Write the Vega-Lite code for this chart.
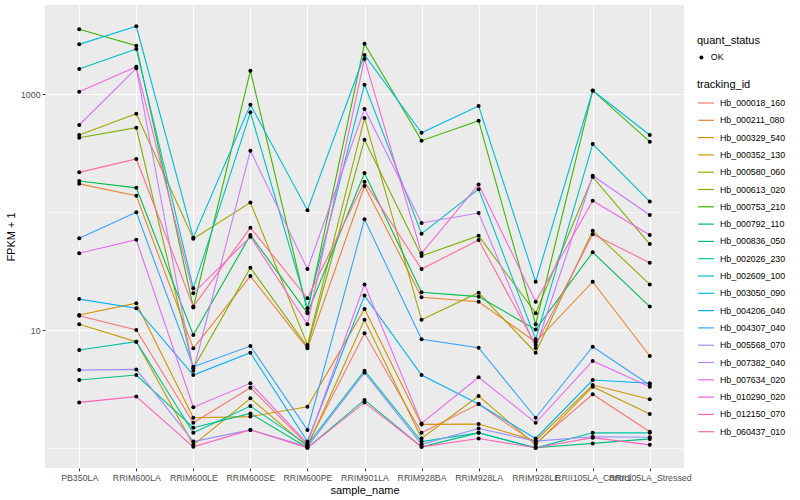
{
  "$schema": "https://vega.github.io/schema/vega-lite/v6.json",
  "width": 639,
  "height": 463,
  "autosize": {"type": "none"},
  "padding": {"left": 45, "top": 5, "right": 116, "bottom": 32},
  "background": "white",
  "data": {"values": [
    {"id":"Hb_000018_160","sample":"PB350LA","fpkm":13.2,"status":"OK"},
    {"id":"Hb_000018_160","sample":"RRIM600LA","fpkm":10,"status":"OK"},
    {"id":"Hb_000018_160","sample":"RRIM600LE","fpkm":1.63,"status":"OK"},
    {"id":"Hb_000018_160","sample":"RRIM600SE","fpkm":3.24,"status":"OK"},
    {"id":"Hb_000018_160","sample":"RRIM600PE","fpkm":1.06,"status":"OK"},
    {"id":"Hb_000018_160","sample":"RRIM901LA","fpkm":9.38,"status":"OK"},
    {"id":"Hb_000018_160","sample":"RRIM928BA","fpkm":1.34,"status":"OK"},
    {"id":"Hb_000018_160","sample":"RRIM928LA","fpkm":2.35,"status":"OK"},
    {"id":"Hb_000018_160","sample":"RRIM928LE","fpkm":1.09,"status":"OK"},
    {"id":"Hb_000018_160","sample":"RRII105LA_Control","fpkm":2.85,"status":"OK"},
    {"id":"Hb_000018_160","sample":"RRII105LA_Stressed","fpkm":1.37,"status":"OK"},
    {"id":"Hb_000211_080","sample":"PB350LA","fpkm":174,"status":"OK"},
    {"id":"Hb_000211_080","sample":"RRIM600LA","fpkm":138,"status":"OK"},
    {"id":"Hb_000211_080","sample":"RRIM600LE","fpkm":6.99,"status":"OK"},
    {"id":"Hb_000211_080","sample":"RRIM600SE","fpkm":28.7,"status":"OK"},
    {"id":"Hb_000211_080","sample":"RRIM600PE","fpkm":6.99,"status":"OK"},
    {"id":"Hb_000211_080","sample":"RRIM901LA","fpkm":167,"status":"OK"},
    {"id":"Hb_000211_080","sample":"RRIM928BA","fpkm":19,"status":"OK"},
    {"id":"Hb_000211_080","sample":"RRIM928LA","fpkm":17.4,"status":"OK"},
    {"id":"Hb_000211_080","sample":"RRIM928LE","fpkm":7.91,"status":"OK"},
    {"id":"Hb_000211_080","sample":"RRII105LA_Control","fpkm":25.7,"status":"OK"},
    {"id":"Hb_000211_080","sample":"RRII105LA_Stressed","fpkm":6.02,"status":"OK"},
    {"id":"Hb_000329_540","sample":"PB350LA","fpkm":13.4,"status":"OK"},
    {"id":"Hb_000329_540","sample":"RRIM600LA","fpkm":16.9,"status":"OK"},
    {"id":"Hb_000329_540","sample":"RRIM600LE","fpkm":1.8,"status":"OK"},
    {"id":"Hb_000329_540","sample":"RRIM600SE","fpkm":1.84,"status":"OK"},
    {"id":"Hb_000329_540","sample":"RRIM600PE","fpkm":2.23,"status":"OK"},
    {"id":"Hb_000329_540","sample":"RRIM901LA","fpkm":15.1,"status":"OK"},
    {"id":"Hb_000329_540","sample":"RRIM928BA","fpkm":1.58,"status":"OK"},
    {"id":"Hb_000329_540","sample":"RRIM928LA","fpkm":1.59,"status":"OK"},
    {"id":"Hb_000329_540","sample":"RRIM928LE","fpkm":1.15,"status":"OK"},
    {"id":"Hb_000329_540","sample":"RRII105LA_Control","fpkm":3.41,"status":"OK"},
    {"id":"Hb_000329_540","sample":"RRII105LA_Stressed","fpkm":2.58,"status":"OK"},
    {"id":"Hb_000352_130","sample":"PB350LA","fpkm":11.2,"status":"OK"},
    {"id":"Hb_000352_130","sample":"RRIM600LA","fpkm":7.96,"status":"OK"},
    {"id":"Hb_000352_130","sample":"RRIM600LE","fpkm":1.06,"status":"OK"},
    {"id":"Hb_000352_130","sample":"RRIM600SE","fpkm":2.63,"status":"OK"},
    {"id":"Hb_000352_130","sample":"RRIM600PE","fpkm":1.02,"status":"OK"},
    {"id":"Hb_000352_130","sample":"RRIM901LA","fpkm":12.2,"status":"OK"},
    {"id":"Hb_000352_130","sample":"RRIM928BA","fpkm":1.2,"status":"OK"},
    {"id":"Hb_000352_130","sample":"RRIM928LA","fpkm":2.75,"status":"OK"},
    {"id":"Hb_000352_130","sample":"RRIM928LE","fpkm":1.06,"status":"OK"},
    {"id":"Hb_000352_130","sample":"RRII105LA_Control","fpkm":3.3,"status":"OK"},
    {"id":"Hb_000352_130","sample":"RRII105LA_Stressed","fpkm":1.94,"status":"OK"},
    {"id":"Hb_000580_060","sample":"PB350LA","fpkm":452,"status":"OK"},
    {"id":"Hb_000580_060","sample":"RRIM600LA","fpkm":686,"status":"OK"},
    {"id":"Hb_000580_060","sample":"RRIM600LE","fpkm":59.5,"status":"OK"},
    {"id":"Hb_000580_060","sample":"RRIM600SE","fpkm":121,"status":"OK"},
    {"id":"Hb_000580_060","sample":"RRIM600PE","fpkm":7.46,"status":"OK"},
    {"id":"Hb_000580_060","sample":"RRIM901LA","fpkm":630,"status":"OK"},
    {"id":"Hb_000580_060","sample":"RRIM928BA","fpkm":12.2,"status":"OK"},
    {"id":"Hb_000580_060","sample":"RRIM928LA","fpkm":20.7,"status":"OK"},
    {"id":"Hb_000580_060","sample":"RRIM928LE","fpkm":6.42,"status":"OK"},
    {"id":"Hb_000580_060","sample":"RRII105LA_Control","fpkm":69.7,"status":"OK"},
    {"id":"Hb_000580_060","sample":"RRII105LA_Stressed","fpkm":24.4,"status":"OK"},
    {"id":"Hb_000613_020","sample":"PB350LA","fpkm":429,"status":"OK"},
    {"id":"Hb_000613_020","sample":"RRIM600LA","fpkm":522,"status":"OK"},
    {"id":"Hb_000613_020","sample":"RRIM600LE","fpkm":4.73,"status":"OK"},
    {"id":"Hb_000613_020","sample":"RRIM600SE","fpkm":33.8,"status":"OK"},
    {"id":"Hb_000613_020","sample":"RRIM600PE","fpkm":7.21,"status":"OK"},
    {"id":"Hb_000613_020","sample":"RRIM901LA","fpkm":412,"status":"OK"},
    {"id":"Hb_000613_020","sample":"RRIM928BA","fpkm":42.5,"status":"OK"},
    {"id":"Hb_000613_020","sample":"RRIM928LA","fpkm":63.2,"status":"OK"},
    {"id":"Hb_000613_020","sample":"RRIM928LE","fpkm":13.9,"status":"OK"},
    {"id":"Hb_000613_020","sample":"RRII105LA_Control","fpkm":199,"status":"OK"},
    {"id":"Hb_000613_020","sample":"RRII105LA_Stressed","fpkm":53.7,"status":"OK"},
    {"id":"Hb_000753_210","sample":"PB350LA","fpkm":3570,"status":"OK"},
    {"id":"Hb_000753_210","sample":"RRIM600LA","fpkm":2590,"status":"OK"},
    {"id":"Hb_000753_210","sample":"RRIM600LE","fpkm":15.5,"status":"OK"},
    {"id":"Hb_000753_210","sample":"RRIM600SE","fpkm":1590,"status":"OK"},
    {"id":"Hb_000753_210","sample":"RRIM600PE","fpkm":14.3,"status":"OK"},
    {"id":"Hb_000753_210","sample":"RRIM901LA","fpkm":2690,"status":"OK"},
    {"id":"Hb_000753_210","sample":"RRIM928BA","fpkm":405,"status":"OK"},
    {"id":"Hb_000753_210","sample":"RRIM928LA","fpkm":598,"status":"OK"},
    {"id":"Hb_000753_210","sample":"RRIM928LE","fpkm":11.2,"status":"OK"},
    {"id":"Hb_000753_210","sample":"RRII105LA_Control","fpkm":1075,"status":"OK"},
    {"id":"Hb_000753_210","sample":"RRII105LA_Stressed","fpkm":397,"status":"OK"},
    {"id":"Hb_000792_110","sample":"PB350LA","fpkm":184,"status":"OK"},
    {"id":"Hb_000792_110","sample":"RRIM600LA","fpkm":161,"status":"OK"},
    {"id":"Hb_000792_110","sample":"RRIM600LE","fpkm":9.07,"status":"OK"},
    {"id":"Hb_000792_110","sample":"RRIM600SE","fpkm":64.1,"status":"OK"},
    {"id":"Hb_000792_110","sample":"RRIM600PE","fpkm":13.9,"status":"OK"},
    {"id":"Hb_000792_110","sample":"RRIM901LA","fpkm":215,"status":"OK"},
    {"id":"Hb_000792_110","sample":"RRIM928BA","fpkm":20.9,"status":"OK"},
    {"id":"Hb_000792_110","sample":"RRIM928LA","fpkm":19.2,"status":"OK"},
    {"id":"Hb_000792_110","sample":"RRIM928LE","fpkm":10.1,"status":"OK"},
    {"id":"Hb_000792_110","sample":"RRII105LA_Control","fpkm":45.7,"status":"OK"},
    {"id":"Hb_000792_110","sample":"RRII105LA_Stressed","fpkm":15.8,"status":"OK"},
    {"id":"Hb_000836_050","sample":"PB350LA","fpkm":3.76,"status":"OK"},
    {"id":"Hb_000836_050","sample":"RRIM600LA","fpkm":4.15,"status":"OK"},
    {"id":"Hb_000836_050","sample":"RRIM600LE","fpkm":1.48,"status":"OK"},
    {"id":"Hb_000836_050","sample":"RRIM600SE","fpkm":1.96,"status":"OK"},
    {"id":"Hb_000836_050","sample":"RRIM600PE","fpkm":1.0,"status":"OK"},
    {"id":"Hb_000836_050","sample":"RRIM901LA","fpkm":2.55,"status":"OK"},
    {"id":"Hb_000836_050","sample":"RRIM928BA","fpkm":1.02,"status":"OK"},
    {"id":"Hb_000836_050","sample":"RRIM928LA","fpkm":1.34,"status":"OK"},
    {"id":"Hb_000836_050","sample":"RRIM928LE","fpkm":1.0,"status":"OK"},
    {"id":"Hb_000836_050","sample":"RRII105LA_Control","fpkm":1.09,"status":"OK"},
    {"id":"Hb_000836_050","sample":"RRII105LA_Stressed","fpkm":1.19,"status":"OK"},
    {"id":"Hb_002026_230","sample":"PB350LA","fpkm":6.77,"status":"OK"},
    {"id":"Hb_002026_230","sample":"RRIM600LA","fpkm":7.96,"status":"OK"},
    {"id":"Hb_002026_230","sample":"RRIM600LE","fpkm":1.34,"status":"OK"},
    {"id":"Hb_002026_230","sample":"RRIM600SE","fpkm":2.26,"status":"OK"},
    {"id":"Hb_002026_230","sample":"RRIM600PE","fpkm":1.06,"status":"OK"},
    {"id":"Hb_002026_230","sample":"RRIM901LA","fpkm":4.51,"status":"OK"},
    {"id":"Hb_002026_230","sample":"RRIM928BA","fpkm":1.13,"status":"OK"},
    {"id":"Hb_002026_230","sample":"RRIM928LA","fpkm":1.34,"status":"OK"},
    {"id":"Hb_002026_230","sample":"RRIM928LE","fpkm":1.0,"status":"OK"},
    {"id":"Hb_002026_230","sample":"RRII105LA_Control","fpkm":1.34,"status":"OK"},
    {"id":"Hb_002026_230","sample":"RRII105LA_Stressed","fpkm":1.34,"status":"OK"},
    {"id":"Hb_002609_100","sample":"PB350LA","fpkm":1640,"status":"OK"},
    {"id":"Hb_002609_100","sample":"RRIM600LA","fpkm":2430,"status":"OK"},
    {"id":"Hb_002609_100","sample":"RRIM600LE","fpkm":22.6,"status":"OK"},
    {"id":"Hb_002609_100","sample":"RRIM600SE","fpkm":705,"status":"OK"},
    {"id":"Hb_002609_100","sample":"RRIM600PE","fpkm":15.3,"status":"OK"},
    {"id":"Hb_002609_100","sample":"RRIM901LA","fpkm":1210,"status":"OK"},
    {"id":"Hb_002609_100","sample":"RRIM928BA","fpkm":65.7,"status":"OK"},
    {"id":"Hb_002609_100","sample":"RRIM928LA","fpkm":157,"status":"OK"},
    {"id":"Hb_002609_100","sample":"RRIM928LE","fpkm":8.34,"status":"OK"},
    {"id":"Hb_002609_100","sample":"RRII105LA_Control","fpkm":379,"status":"OK"},
    {"id":"Hb_002609_100","sample":"RRII105LA_Stressed","fpkm":123,"status":"OK"},
    {"id":"Hb_003050_090","sample":"PB350LA","fpkm":2660,"status":"OK"},
    {"id":"Hb_003050_090","sample":"RRIM600LA","fpkm":3790,"status":"OK"},
    {"id":"Hb_003050_090","sample":"RRIM600LE","fpkm":60.8,"status":"OK"},
    {"id":"Hb_003050_090","sample":"RRIM600SE","fpkm":818,"status":"OK"},
    {"id":"Hb_003050_090","sample":"RRIM600PE","fpkm":104,"status":"OK"},
    {"id":"Hb_003050_090","sample":"RRIM901LA","fpkm":2160,"status":"OK"},
    {"id":"Hb_003050_090","sample":"RRIM928BA","fpkm":473,"status":"OK"},
    {"id":"Hb_003050_090","sample":"RRIM928LA","fpkm":797,"status":"OK"},
    {"id":"Hb_003050_090","sample":"RRIM928LE","fpkm":25.7,"status":"OK"},
    {"id":"Hb_003050_090","sample":"RRII105LA_Control","fpkm":1080,"status":"OK"},
    {"id":"Hb_003050_090","sample":"RRII105LA_Stressed","fpkm":452,"status":"OK"},
    {"id":"Hb_004206_040","sample":"PB350LA","fpkm":18.3,"status":"OK"},
    {"id":"Hb_004206_040","sample":"RRIM600LA","fpkm":15.3,"status":"OK"},
    {"id":"Hb_004206_040","sample":"RRIM600LE","fpkm":4.15,"status":"OK"},
    {"id":"Hb_004206_040","sample":"RRIM600SE","fpkm":6.42,"status":"OK"},
    {"id":"Hb_004206_040","sample":"RRIM600PE","fpkm":1.13,"status":"OK"},
    {"id":"Hb_004206_040","sample":"RRIM901LA","fpkm":19.6,"status":"OK"},
    {"id":"Hb_004206_040","sample":"RRIM928BA","fpkm":4.15,"status":"OK"},
    {"id":"Hb_004206_040","sample":"RRIM928LA","fpkm":2.35,"status":"OK"},
    {"id":"Hb_004206_040","sample":"RRIM928LE","fpkm":1.2,"status":"OK"},
    {"id":"Hb_004206_040","sample":"RRII105LA_Control","fpkm":3.76,"status":"OK"},
    {"id":"Hb_004206_040","sample":"RRII105LA_Stressed","fpkm":3.53,"status":"OK"},
    {"id":"Hb_004307_040","sample":"PB350LA","fpkm":60,"status":"OK"},
    {"id":"Hb_004307_040","sample":"RRIM600LA","fpkm":100,"status":"OK"},
    {"id":"Hb_004307_040","sample":"RRIM600LE","fpkm":4.88,"status":"OK"},
    {"id":"Hb_004307_040","sample":"RRIM600SE","fpkm":7.31,"status":"OK"},
    {"id":"Hb_004307_040","sample":"RRIM600PE","fpkm":1.42,"status":"OK"},
    {"id":"Hb_004307_040","sample":"RRIM901LA","fpkm":87,"status":"OK"},
    {"id":"Hb_004307_040","sample":"RRIM928BA","fpkm":8.34,"status":"OK"},
    {"id":"Hb_004307_040","sample":"RRIM928LA","fpkm":7.07,"status":"OK"},
    {"id":"Hb_004307_040","sample":"RRIM928LE","fpkm":1.8,"status":"OK"},
    {"id":"Hb_004307_040","sample":"RRII105LA_Control","fpkm":7.21,"status":"OK"},
    {"id":"Hb_004307_040","sample":"RRII105LA_Stressed","fpkm":3.41,"status":"OK"},
    {"id":"Hb_005568_070","sample":"PB350LA","fpkm":4.57,"status":"OK"},
    {"id":"Hb_005568_070","sample":"RRIM600LA","fpkm":4.63,"status":"OK"},
    {"id":"Hb_005568_070","sample":"RRIM600LE","fpkm":1.13,"status":"OK"},
    {"id":"Hb_005568_070","sample":"RRIM600SE","fpkm":1.42,"status":"OK"},
    {"id":"Hb_005568_070","sample":"RRIM600PE","fpkm":1.02,"status":"OK"},
    {"id":"Hb_005568_070","sample":"RRIM901LA","fpkm":4.34,"status":"OK"},
    {"id":"Hb_005568_070","sample":"RRIM928BA","fpkm":1.07,"status":"OK"},
    {"id":"Hb_005568_070","sample":"RRIM928LA","fpkm":1.46,"status":"OK"},
    {"id":"Hb_005568_070","sample":"RRIM928LE","fpkm":1.14,"status":"OK"},
    {"id":"Hb_005568_070","sample":"RRII105LA_Control","fpkm":1.24,"status":"OK"},
    {"id":"Hb_005568_070","sample":"RRII105LA_Stressed","fpkm":1.23,"status":"OK"},
    {"id":"Hb_007382_040","sample":"PB350LA","fpkm":550,"status":"OK"},
    {"id":"Hb_007382_040","sample":"RRIM600LA","fpkm":1666,"status":"OK"},
    {"id":"Hb_007382_040","sample":"RRIM600LE","fpkm":4.51,"status":"OK"},
    {"id":"Hb_007382_040","sample":"RRIM600SE","fpkm":333,"status":"OK"},
    {"id":"Hb_007382_040","sample":"RRIM600PE","fpkm":32.9,"status":"OK"},
    {"id":"Hb_007382_040","sample":"RRIM901LA","fpkm":752,"status":"OK"},
    {"id":"Hb_007382_040","sample":"RRIM928BA","fpkm":81,"status":"OK"},
    {"id":"Hb_007382_040","sample":"RRIM928LA","fpkm":98.4,"status":"OK"},
    {"id":"Hb_007382_040","sample":"RRIM928LE","fpkm":7.03,"status":"OK"},
    {"id":"Hb_007382_040","sample":"RRII105LA_Control","fpkm":204,"status":"OK"},
    {"id":"Hb_007382_040","sample":"RRII105LA_Stressed","fpkm":94.7,"status":"OK"},
    {"id":"Hb_007634_020","sample":"PB350LA","fpkm":44.8,"status":"OK"},
    {"id":"Hb_007634_020","sample":"RRIM600LA","fpkm":58.4,"status":"OK"},
    {"id":"Hb_007634_020","sample":"RRIM600LE","fpkm":2.21,"status":"OK"},
    {"id":"Hb_007634_020","sample":"RRIM600SE","fpkm":3.53,"status":"OK"},
    {"id":"Hb_007634_020","sample":"RRIM600PE","fpkm":1.09,"status":"OK"},
    {"id":"Hb_007634_020","sample":"RRIM901LA","fpkm":24.4,"status":"OK"},
    {"id":"Hb_007634_020","sample":"RRIM928BA","fpkm":1.61,"status":"OK"},
    {"id":"Hb_007634_020","sample":"RRIM928LA","fpkm":3.97,"status":"OK"},
    {"id":"Hb_007634_020","sample":"RRIM928LE","fpkm":1.63,"status":"OK"},
    {"id":"Hb_007634_020","sample":"RRII105LA_Control","fpkm":5.46,"status":"OK"},
    {"id":"Hb_007634_020","sample":"RRII105LA_Stressed","fpkm":3.3,"status":"OK"},
    {"id":"Hb_010290_020","sample":"PB350LA","fpkm":1054,"status":"OK"},
    {"id":"Hb_010290_020","sample":"RRIM600LA","fpkm":1718,"status":"OK"},
    {"id":"Hb_010290_020","sample":"RRIM600LE","fpkm":20.5,"status":"OK"},
    {"id":"Hb_010290_020","sample":"RRIM600SE","fpkm":61.9,"status":"OK"},
    {"id":"Hb_010290_020","sample":"RRIM600PE","fpkm":11.2,"status":"OK"},
    {"id":"Hb_010290_020","sample":"RRIM901LA","fpkm":2000,"status":"OK"},
    {"id":"Hb_010290_020","sample":"RRIM928BA","fpkm":44.8,"status":"OK"},
    {"id":"Hb_010290_020","sample":"RRIM928LA","fpkm":172,"status":"OK"},
    {"id":"Hb_010290_020","sample":"RRIM928LE","fpkm":17.4,"status":"OK"},
    {"id":"Hb_010290_020","sample":"RRII105LA_Control","fpkm":125,"status":"OK"},
    {"id":"Hb_010290_020","sample":"RRII105LA_Stressed","fpkm":64.1,"status":"OK"},
    {"id":"Hb_012150_070","sample":"PB350LA","fpkm":2.43,"status":"OK"},
    {"id":"Hb_012150_070","sample":"RRIM600LA","fpkm":2.72,"status":"OK"},
    {"id":"Hb_012150_070","sample":"RRIM600LE","fpkm":1.02,"status":"OK"},
    {"id":"Hb_012150_070","sample":"RRIM600SE","fpkm":1.42,"status":"OK"},
    {"id":"Hb_012150_070","sample":"RRIM600PE","fpkm":1.0,"status":"OK"},
    {"id":"Hb_012150_070","sample":"RRIM901LA","fpkm":2.42,"status":"OK"},
    {"id":"Hb_012150_070","sample":"RRIM928BA","fpkm":1.02,"status":"OK"},
    {"id":"Hb_012150_070","sample":"RRIM928LA","fpkm":1.2,"status":"OK"},
    {"id":"Hb_012150_070","sample":"RRIM928LE","fpkm":1.0,"status":"OK"},
    {"id":"Hb_012150_070","sample":"RRII105LA_Control","fpkm":1.22,"status":"OK"},
    {"id":"Hb_012150_070","sample":"RRII105LA_Stressed","fpkm":1.06,"status":"OK"},
    {"id":"Hb_060437_010","sample":"PB350LA","fpkm":218,"status":"OK"},
    {"id":"Hb_060437_010","sample":"RRIM600LA","fpkm":283,"status":"OK"},
    {"id":"Hb_060437_010","sample":"RRIM600LE","fpkm":15.8,"status":"OK"},
    {"id":"Hb_060437_010","sample":"RRIM600SE","fpkm":73.9,"status":"OK"},
    {"id":"Hb_060437_010","sample":"RRIM600PE","fpkm":18.6,"status":"OK"},
    {"id":"Hb_060437_010","sample":"RRIM901LA","fpkm":181,"status":"OK"},
    {"id":"Hb_060437_010","sample":"RRIM928BA","fpkm":32.9,"status":"OK"},
    {"id":"Hb_060437_010","sample":"RRIM928LA","fpkm":58.1,"status":"OK"},
    {"id":"Hb_060437_010","sample":"RRIM928LE","fpkm":7.46,"status":"OK"},
    {"id":"Hb_060437_010","sample":"RRII105LA_Control","fpkm":64.9,"status":"OK"},
    {"id":"Hb_060437_010","sample":"RRII105LA_Stressed","fpkm":37.3,"status":"OK"}
  ]},
  "encoding": {
    "x": {
      "field": "sample", "type": "nominal",
      "sort": ["PB350LA","RRIM600LA","RRIM600LE","RRIM600SE","RRIM600PE","RRIM901LA","RRIM928BA","RRIM928LA","RRIM928LE","RRII105LA_Control","RRII105LA_Stressed"],
      "scale": {"type": "point", "padding": 0.6},
      "axis": {"title": "sample_name", "labelAngle": 0, "labelPadding": 2.5, "titlePadding": 2, "grid": true, "gridColor": "white", "gridWidth": 1.1}
    },
    "y": {
      "field": "fpkm", "type": "quantitative",
      "scale": {"type": "log", "domain": [0.674, 5741], "nice": false},
      "axis": {
        "title": "FPKM + 1",
        "values": [1, 10, 100, 1000],
        "labelExpr": "datum.value == 10 ? '10' : (datum.value == 1000 ? '1000' : '')",
        "grid": true, "gridColor": "white",
        "gridWidth": {"condition": {"test": "datum.value == 10 || datum.value == 1000", "value": 1.1}, "value": 0.55},
        "tickColor": {"condition": {"test": "datum.value == 10 || datum.value == 1000", "value": "#333333"}, "value": "transparent"},
        "labelPadding": 2.2, "titlePadding": 4
      }
    }
  },
  "layer": [
    {
      "mark": {"type": "line", "strokeWidth": 1.1},
      "encoding": {
        "color": {
          "field": "id", "type": "nominal",
          "scale": {
            "domain": ["Hb_000018_160","Hb_000211_080","Hb_000329_540","Hb_000352_130","Hb_000580_060","Hb_000613_020","Hb_000753_210","Hb_000792_110","Hb_000836_050","Hb_002026_230","Hb_002609_100","Hb_003050_090","Hb_004206_040","Hb_004307_040","Hb_005568_070","Hb_007382_040","Hb_007634_020","Hb_010290_020","Hb_012150_070","Hb_060437_010"],
            "range": ["#F8766D","#EA8331","#D89000","#C09B00","#A3A500","#7CAE00","#39B600","#00BB4E","#00BF7D","#00C1A3","#00BFC4","#00BAE0","#00B0F6","#35A2FF","#9590FF","#C77CFF","#E76BF3","#FA62DB","#FF62BC","#FF6C91"]
          },
          "legend": {"title": "tracking_id", "orient": "none", "legendX": 652, "legendY": 74, "symbolType": "stroke", "symbolStrokeWidth": 1.2, "symbolSize": 250, "rowPadding": 3.3, "titlePadding": 4, "labelLimit": 200}
        }
      }
    },
    {
      "mark": {"type": "point", "filled": true, "size": 16, "opacity": 1, "color": "black"},
      "encoding": {
        "shape": {
          "field": "status", "type": "nominal",
          "scale": {"range": ["circle"]},
          "legend": {"title": "quant_status", "orient": "none", "legendX": 652, "legendY": 30, "symbolSize": 16, "symbolFillColor": "black", "symbolStrokeColor": "black", "titlePadding": 7}
        }
      }
    }
  ],
  "config": {
    "font": "Liberation Sans",
    "view": {"fill": "#EBEBEB", "stroke": null},
    "axis": {
      "domain": false,
      "tickColor": "#333333", "tickSize": 2.75, "tickWidth": 1,
      "labelColor": "#4D4D4D", "labelFontSize": 8.8, "labelFont": "Liberation Sans",
      "titleColor": "black", "titleFontSize": 11, "titleFontWeight": "normal", "titleFont": "Liberation Sans"
    },
    "legend": {
      "padding": 0,
      "titleFontSize": 11, "titleFontWeight": "normal", "titleColor": "black", "titleFont": "Liberation Sans",
      "labelFontSize": 8.8, "labelColor": "black", "labelFont": "Liberation Sans", "labelOffset": 5
    }
  }
}
